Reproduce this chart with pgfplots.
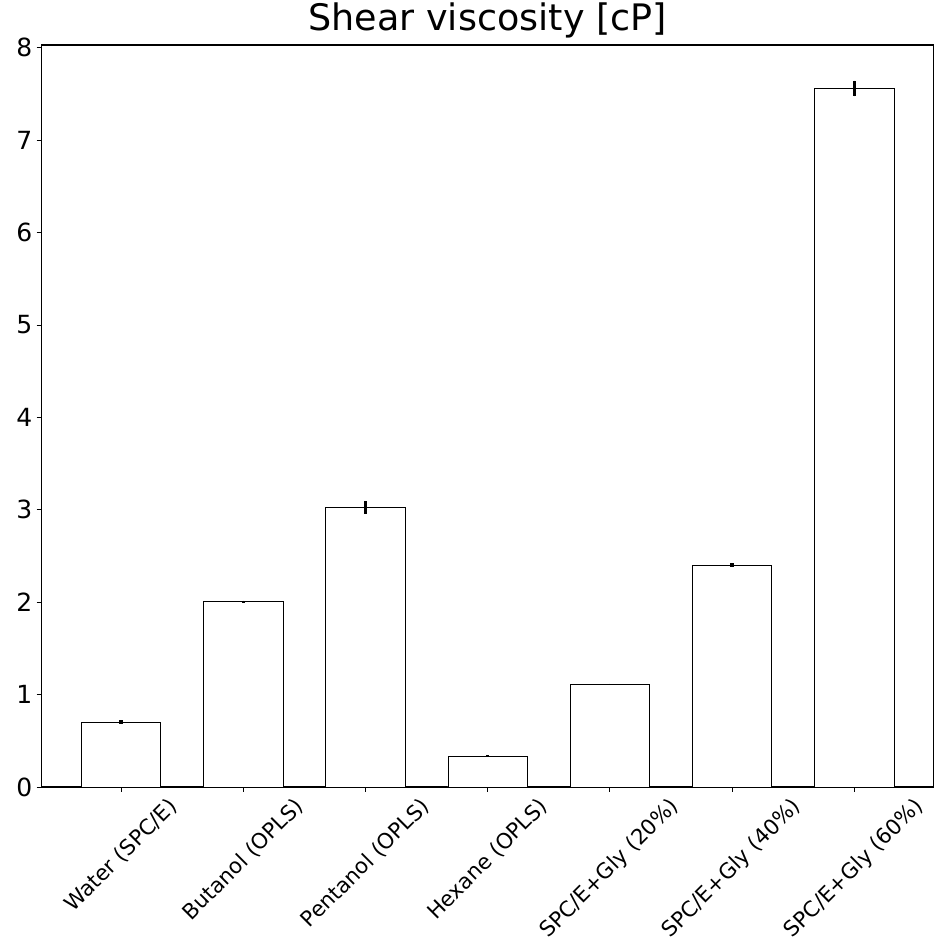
\documentclass[border=0pt]{standalone}
\usepackage{pgfplots}
\pgfplotsset{compat=1.18}
\usepackage{pgfplotstable}
\usepackage{graphicx}
\usepackage{fontspec}
\setmainfont{DejaVu Sans}

% Shear viscosity per system: mean and standard error
\pgfplotstableread{
x y err
0 0.700 0.020
1 2.005 0.012
2 3.025 0.070
3 0.335 0.006
4 1.115 0.000
5 2.400 0.020
6 7.560 0.085
}\viscdata

\begin{document}
\begin{tikzpicture}
\useasboundingbox (-41.7pt,-158pt) rectangle (904.3pt,787pt);
\begin{axis}[
  at={(0pt,0pt)}, anchor=south west,
  scale only axis,
  width=892pt, height=742pt,
  xmin=-0.65, xmax=6.65,
  ymin=0, ymax=8.03,
  ybar, bar width=0.65,
  axis line style={line width=1.1pt, black},
  tick align=outside,
  xtick pos=bottom, ytick pos=left,
  major tick length=5pt,
  tick style={line width=0.9pt, black},
  xtick={0,...,6},
  ytick={0,...,8},
  xticklabels={
    \rotatebox{45}{Water (SPC/E)},
    \rotatebox{45}{Butanol (OPLS)},
    \rotatebox{45}{Pentanol (OPLS)},
    \rotatebox{45}{Hexane (OPLS)},
    \rotatebox{45}{SPC/E+Gly (20\%)},
    \rotatebox{45}{SPC/E+Gly (40\%)},
    \rotatebox{45}{SPC/E+Gly (60\%)}},
  xticklabel style={anchor=north, font=\fontsize{21.3}{26}\selectfont, inner sep=0pt, yshift=-4pt},
  yticklabel style={font=\fontsize{25}{30}\selectfont, /pgf/number format/assume math mode=true, xshift=-1pt},
  title={Shear viscosity [cP]},
  title style={font=\fontsize{36.5}{42}\selectfont, at={(0.5,1)}, anchor=base, yshift=8pt},
]
\addplot[
  draw=black, fill=white, line width=0.9pt,
  error bars/.cd, y dir=both, y explicit, error mark=none,
  error bar style={line width=3.5pt, black},
] table[x=x, y=y, y error=err] {\viscdata};
\end{axis}
\end{tikzpicture}
\end{document}
